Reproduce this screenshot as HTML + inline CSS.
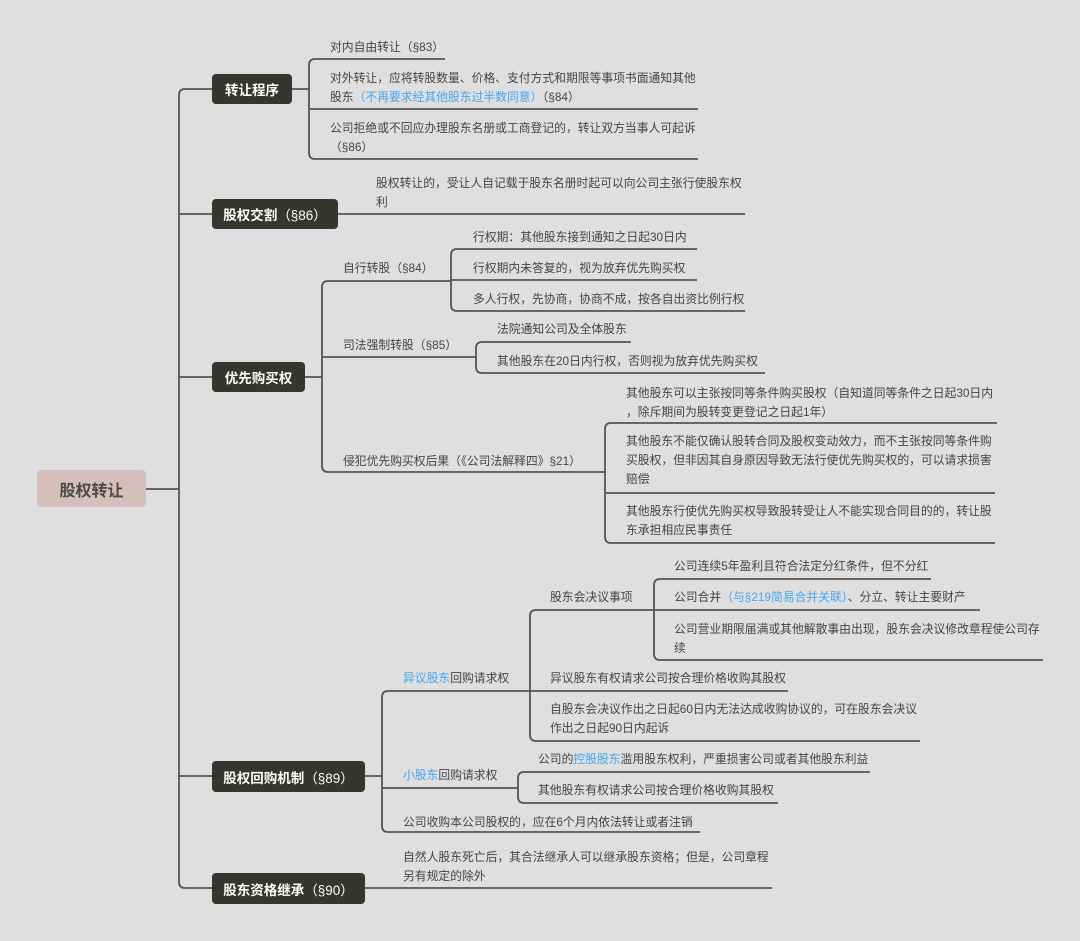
<!DOCTYPE html>
<html><head><meta charset="utf-8">
<style>
html,body{margin:0;padding:0;}
body{width:1080px;height:941px;background:#dfdfdf;position:relative;overflow:hidden;font-family:"Liberation Sans","Noto Sans CJK SC",sans-serif;}
svg{position:absolute;left:0;top:0;}
.t{position:absolute;font-size:11.8px;line-height:19px;color:#444;white-space:nowrap;}
.b{color:#45a6ee;}
.n{position:absolute;background:#36362f;color:#fff;border-radius:4px;font-size:13.5px;font-weight:bold;display:flex;align-items:center;justify-content:center;box-sizing:border-box;}
.n span{font-weight:normal;}
.root{position:absolute;left:37px;top:470px;width:109px;height:37px;background:#d5bfbb;border-radius:4px;color:#4a4a4a;font-weight:bold;font-size:16px;display:flex;align-items:center;justify-content:center;}
</style></head><body>
<svg id="s" width="1080" height="941"></svg>

<div class="root">股权转让</div>
<div class="n" style="left:212px;top:74px;width:80px;height:30px;">转让程序</div>
<div class="n" style="left:212px;top:199px;width:126px;height:30px;">股权交割<span>（§86）</span></div>
<div class="n" style="left:212px;top:362px;width:93px;height:30px;">优先购买权</div>
<div class="n" style="left:212px;top:761px;width:153px;height:31px;">股权回购机制<span>（§89）</span></div>
<div class="n" style="left:212px;top:873px;width:153px;height:31px;">股东资格继承<span>（§90）</span></div>

<div class="t" style="left:330px;top:38px;">对内自由转让（§83）</div>
<div class="t" style="left:330px;top:69px;">对外转让，应将转股数量、价格、支付方式和期限等事项书面通知其他<br>股东<span class="b">（不再要求经其他股东过半数同意）</span>（§84）</div>
<div class="t" style="left:330px;top:119px;">公司拒绝或不回应办理股东名册或工商登记的，转让双方当事人可起诉<br>（§86）</div>
<div class="t" style="left:376px;top:174px;">股权转让的，受让人自记载于股东名册时起可以向公司主张行使股东权<br>利</div>

<div class="t" style="left:343px;top:259px;">自行转股（§84）</div>
<div class="t" style="left:473px;top:228px;">行权期：其他股东接到通知之日起30日内</div>
<div class="t" style="left:473px;top:259px;">行权期内未答复的，视为放弃优先购买权</div>
<div class="t" style="left:473px;top:290px;">多人行权，先协商，协商不成，按各自出资比例行权</div>
<div class="t" style="left:343px;top:336px;">司法强制转股（§85）</div>
<div class="t" style="left:497px;top:320px;">法院通知公司及全体股东</div>
<div class="t" style="left:497px;top:352px;">其他股东在20日内行权，否则视为放弃优先购买权</div>
<div class="t" style="left:343px;top:452px;">侵犯优先购买权后果（《公司法解释四》§21）</div>
<div class="t" style="left:626px;top:384px;">其他股东可以主张按同等条件购买股权（自知道同等条件之日起30日内<br>，除斥期间为股转变更登记之日起1年）</div>
<div class="t" style="left:626px;top:432px;">其他股东不能仅确认股转合同及股权变动效力，而不主张按同等条件购<br>买股权，但非因其自身原因导致无法行使优先购买权的，可以请求损害<br>赔偿</div>
<div class="t" style="left:626px;top:502px;">其他股东行使优先购买权导致股转受让人不能实现合同目的的，转让股<br>东承担相应民事责任</div>

<div class="t" style="left:403px;top:669px;"><span class="b">异议股东</span>回购请求权</div>
<div class="t" style="left:550px;top:588px;">股东会决议事项</div>
<div class="t" style="left:674px;top:557px;">公司连续5年盈利且符合法定分红条件，但不分红</div>
<div class="t" style="left:674px;top:588px;">公司合并<span class="b">（与§219简易合并关联）</span>、分立、转让主要财产</div>
<div class="t" style="left:674px;top:620px;">公司营业期限届满或其他解散事由出现，股东会决议修改章程使公司存<br>续</div>
<div class="t" style="left:550px;top:669px;">异议股东有权请求公司按合理价格收购其股权</div>
<div class="t" style="left:550px;top:700px;">自股东会决议作出之日起60日内无法达成收购协议的，可在股东会决议<br>作出之日起90日内起诉</div>
<div class="t" style="left:403px;top:766px;"><span class="b">小股东</span>回购请求权</div>
<div class="t" style="left:538px;top:750px;">公司的<span class="b">控股股东</span>滥用股东权利，严重损害公司或者其他股东利益</div>
<div class="t" style="left:538px;top:781px;">其他股东有权请求公司按合理价格收购其股权</div>
<div class="t" style="left:403px;top:813px;">公司收购本公司股权的，应在6个月内依法转让或者注销</div>
<div class="t" style="left:403px;top:848px;">自然人股东死亡后，其合法继承人可以继承股东资格；但是，公司章程<br>另有规定的除外</div>

<script>
var d='';
function br(px,py,x,ys,ends){
  var r=6,n=ys.length-1;
  d+='M'+px+' '+py+'L'+x+' '+py;
  d+='M'+ends[0]+' '+ys[0]+'L'+(x+r)+' '+ys[0]+'Q'+x+' '+ys[0]+' '+x+' '+(ys[0]+r)+'L'+x+' '+(ys[n]-r)+'Q'+x+' '+ys[n]+' '+(x+r)+' '+ys[n]+'L'+ends[n]+' '+ys[n];
  for(var i=1;i<n;i++){d+='M'+x+' '+ys[i]+'L'+ends[i]+' '+ys[i];}
}
br(146,489,179,[89,214,377,776,888],[212,212,212,212,212]);
br(292,89,309,[59,109,159],[445,698,698]);
d+='M338 214L745 214';
d+='M365 888L772 888';
br(305,377,322,[281,357,472],[451,476,605]);
br(451,281,451,[249,280,311],[697,697,745]);
br(476,357,476,[342,373],[631,765]);
br(605,472,605,[423,493,543],[997,995,995]);
br(365,776,382,[691,788,832],[530,518,700]);
br(530,691,530,[610,691,741],[654,788,920]);
br(654,610,654,[579,610,660],[931,980,1043]);
br(518,788,518,[772,803],[870,778]);
document.getElementById('s').innerHTML='<path d="'+d+'" fill="none" stroke="#555" stroke-width="1.8"/>';
</script>
</body></html>
